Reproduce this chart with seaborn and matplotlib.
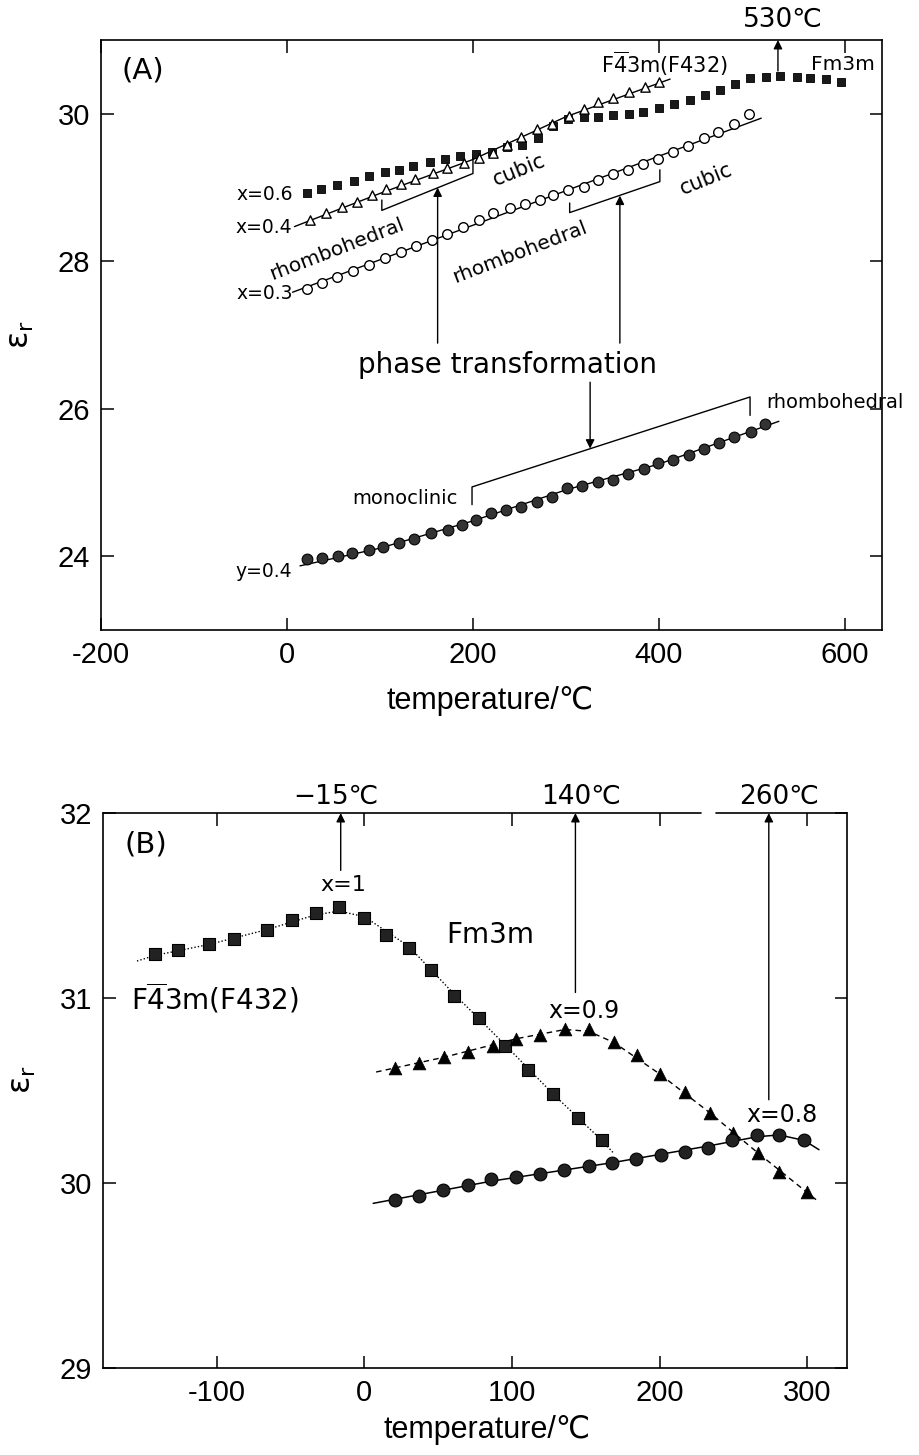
import matplotlib
matplotlib.use("Agg")
import matplotlib.pyplot as plt
from matplotlib import font_manager
import seaborn as sns

# ---- panel A data (temperature in C, relative permittivity) ----
a06_t = [22, 37, 54, 72, 88, 105, 120, 136, 154, 170, 186, 203, 220, 237, 253, 270, 286, 302,
         319, 335, 351, 368, 383, 400, 416, 433, 450, 466, 482, 498, 515, 530, 548, 563, 580, 596]
a06_e = [28.93, 28.98, 29.04, 29.09, 29.15, 29.21, 29.24, 29.29, 29.35, 29.38, 29.43, 29.46, 29.48,
         29.55, 29.58, 29.67, 29.83, 29.93, 29.95, 29.96, 29.98, 30.00, 30.03, 30.08, 30.13, 30.19,
         30.25, 30.32, 30.41, 30.48, 30.50, 30.51, 30.50, 30.49, 30.47, 30.43]

a04_t = [25, 42, 59, 75, 91, 107, 123, 138, 157, 172, 190, 206, 222, 237, 252, 269, 285, 303,
         319, 335, 351, 368, 385, 400]
a04_e = [28.56, 28.65, 28.73, 28.81, 28.90, 28.98, 29.05, 29.12, 29.20, 29.26, 29.33, 29.40, 29.47,
         29.57, 29.68, 29.80, 29.86, 29.97, 30.07, 30.16, 30.22, 30.30, 30.36, 30.43]
a04_fit_t = [8, 100, 200, 300, 412]
a04_fit_e = [28.47, 28.92, 29.38, 29.96, 30.47]

a03_t = [22, 38, 54, 71, 88, 105, 123, 139, 156, 172, 189, 206, 222, 240, 256, 272, 286, 302,
         319, 335, 351, 367, 383, 399, 415, 431, 448, 464, 481, 497]
a03_e = [27.62, 27.70, 27.78, 27.87, 27.95, 28.04, 28.13, 28.21, 28.29, 28.37, 28.46, 28.56, 28.65,
         28.72, 28.78, 28.83, 28.90, 28.96, 29.01, 29.10, 29.18, 29.24, 29.32, 29.38, 29.48, 29.56,
         29.67, 29.75, 29.86, 30.00]
a03_fit_t = [6, 510]
a03_fit_e = [27.58, 29.94]

y04_t = [22, 38, 55, 70, 88, 103, 120, 137, 155, 173, 188, 203, 219, 236, 252, 269, 285, 301,
         317, 334, 351, 367, 384, 399, 415, 432, 449, 465, 481, 499, 514]
y04_e = [23.96, 23.98, 24.01, 24.04, 24.08, 24.13, 24.18, 24.23, 24.31, 24.36, 24.42, 24.49, 24.58,
         24.63, 24.67, 24.74, 24.81, 24.92, 24.95, 25.01, 25.03, 25.12, 25.18, 25.26, 25.31, 25.37,
         25.46, 25.54, 25.62, 25.69, 25.80]
y04_fit_t = [14, 100, 200, 300, 400, 529]
y04_fit_e = [23.87, 24.11, 24.48, 24.90, 25.25, 25.83]

# phase brackets in panel A
br04_t, br04_e = [102, 102, 200, 200], [28.83, 28.69, 29.19, 29.42]
br03_t, br03_e = [304, 304, 401, 401], [28.79, 28.66, 29.08, 29.24]
brmono_t, brmono_e = [199, 199, 498, 498], [24.70, 24.94, 26.16, 25.91]

# ---- panel B data ----
b1_t = [-142, -126, -105, -88, -66, -49, -33, -17, 0, 15, 30, 45, 61, 78, 95, 111, 128, 145, 161]
b1_e = [31.24, 31.26, 31.29, 31.32, 31.37, 31.42, 31.46, 31.49, 31.43, 31.34, 31.27, 31.15, 31.01,
        30.89, 30.74, 30.61, 30.48, 30.35, 30.23]
b1_fit_t = [-154, -142, -105, -66, -33, -17, 0, 30, 61, 95, 128, 161, 169]
b1_fit_e = [31.20, 31.23, 31.29, 31.37, 31.45, 31.47, 31.44, 31.28, 31.02, 30.75, 30.48, 30.23, 30.16]

b09_t = [21, 37, 54, 70, 87, 103, 119, 136, 152, 169, 185, 200, 217, 234, 250, 267, 281, 300]
b09_e = [30.62, 30.65, 30.68, 30.71, 30.74, 30.78, 30.80, 30.83, 30.83, 30.76, 30.69, 30.59, 30.49,
         30.38, 30.27, 30.16, 30.06, 29.95]
b09_fit_t = [8, 54, 103, 136, 152, 169, 200, 234, 267, 306]
b09_fit_e = [30.60, 30.68, 30.78, 30.83, 30.82, 30.76, 30.59, 30.38, 30.16, 29.91]

b08_t = [21, 37, 53, 70, 86, 103, 119, 135, 152, 168, 184, 201, 217, 233, 249, 266, 281, 298]
b08_e = [29.91, 29.93, 29.96, 29.99, 30.02, 30.03, 30.05, 30.07, 30.09, 30.11, 30.13, 30.15, 30.17,
         30.19, 30.23, 30.26, 30.26, 30.23]
b08_fit_t = [6, 86, 168, 233, 266, 281, 298, 308]
b08_fit_e = [29.89, 30.01, 30.11, 30.20, 30.25, 30.26, 30.23, 30.18]

xticks_a = [-200, 0, 200, 400, 600]
yticks_a = [24, 26, 28, 30]
xticks_b = [-100, 0, 100, 200, 300]
yticks_b = [29, 30, 31, 32]

K = "black"
sns.set_theme(style="ticks")
plt.rcParams["font.family"] = ["DejaVu Sans"]
plt.rcParams["axes.unicode_minus"] = False
plt.rcParams["mathtext.fontset"] = "dejavusans"
for key in ["text.color", "axes.labelcolor", "xtick.color", "ytick.color", "axes.edgecolor"]:
    plt.rcParams[key] = K

# condensed face for the tick numbers, if one is installed
installed = {f.name for f in font_manager.fontManager.ttflist}
narrow = "Liberation Sans Narrow" if "Liberation Sans Narrow" in installed else "Liberation Sans"
tick_font = [narrow, "DejaVu Sans"]

fig = plt.figure(figsize=(9.2, 14.55), dpi=100)
axA = fig.add_axes([0.1098, 0.567, 0.849, 0.4055])
axB = fig.add_axes([0.112, 0.0598, 0.8087, 0.3814])


def style_axes(ax, xt, yt, xl, yl):
    ax.set_xlim(*xl)
    ax.set_ylim(*yl)
    ax.set_xticks(xt)
    ax.set_yticks(yt)
    ax.set_xticklabels([str(v) for v in xt])
    ax.set_yticklabels([str(v) for v in yt])
    ax.tick_params(direction="in", length=9, width=1.1, top=True, right=True,
                   labelsize=21, pad=8, labelfontfamily=narrow)
    for s in ax.spines.values():
        s.set_linewidth(1.2)
    ax.set_xlabel("temperature/℃", fontsize=22, family=tick_font)
    ax.set_ylabel("ε$_\\mathregular{r}$", fontsize=23, rotation=90)
    ax.grid(False)


def arrow(ax, t, e0, e1):
    ax.annotate("", xy=(t, e1), xytext=(t, e0), annotation_clip=False,
                arrowprops=dict(arrowstyle="-|>", color=K, lw=1.0, mutation_scale=13,
                                shrinkA=0, shrinkB=0))


# ================= panel A =================
ax = axA
sns.lineplot(x=a04_fit_t, y=a04_fit_e, ax=ax, color=K, lw=1.0, estimator=None)
sns.lineplot(x=a03_fit_t, y=a03_fit_e, ax=ax, color=K, lw=1.0, estimator=None)
sns.lineplot(x=y04_fit_t, y=y04_fit_e, ax=ax, color=K, lw=1.0, estimator=None)
sns.scatterplot(x=a06_t, y=a06_e, ax=ax, marker="s", s=36, color="#1a1a1a", edgecolor=K,
                linewidth=0.6, zorder=3)
sns.scatterplot(x=a04_t, y=a04_e, ax=ax, marker="^", s=45, color="white", edgecolor=K,
                linewidth=1.0, zorder=3)
sns.scatterplot(x=a03_t, y=a03_e, ax=ax, marker="o", s=48, color="white", edgecolor=K,
                linewidth=1.0, zorder=3)
sns.scatterplot(x=y04_t, y=y04_e, ax=ax, marker="o", s=60, color="#333333", edgecolor=K,
                linewidth=0.8, zorder=3)
for bt, be in [(br04_t, br04_e), (br03_t, br03_e), (brmono_t, brmono_e)]:
    ax.plot(bt, be, color=K, lw=1.0)

style_axes(ax, xticks_a, yticks_a, (-200, 640), (23, 31))
ax.xaxis.set_label_coords(0.498, -0.095)
ax.yaxis.set_label_coords(-0.083, 0.5)

ax.text(-155, 30.58, "(A)", fontsize=21, ha="center", va="center")
ax.text(6, 28.9, "x=0.6", fontsize=13.5, ha="right", va="center")
ax.text(6, 28.46, "x=0.4", fontsize=13.5, ha="right", va="center")
ax.text(6, 27.56, "x=0.3", fontsize=13.5, ha="right", va="center")
ax.text(5, 23.8, "y=0.4", fontsize=13.5, ha="right", va="center")
ax.text(54, 28.16, "rhombohedral", fontsize=14.5, rotation=21, ha="center", va="center",
        rotation_mode="anchor")
ax.text(250, 28.12, "rhombohedral", fontsize=14.5, rotation=21, ha="center", va="center",
        rotation_mode="anchor")
ax.text(250, 29.23, "cubic", fontsize=15, rotation=22, ha="center", va="center",
        rotation_mode="anchor")
ax.text(451, 29.12, "cubic", fontsize=15, rotation=22, ha="center", va="center",
        rotation_mode="anchor")
ax.text(406, 30.67, r"F$\overline{4}$3m(F432)", fontsize=15, ha="center", va="center")
ax.text(598, 30.67, "Fm3m", fontsize=14.5, ha="center", va="center")
ax.text(533, 31.27, "530℃", fontsize=19, ha="center", va="center", clip_on=False)
ax.text(237, 26.59, "phase transformation", fontsize=20, ha="center", va="center")
ax.text(184, 24.79, "monoclinic", fontsize=14, ha="right", va="center")
ax.text(515, 26.08, "rhombohedral", fontsize=14, ha="left", va="center", clip_on=False)
arrow(ax, 162, 26.89, 29.0)
arrow(ax, 358, 26.89, 28.89)
arrow(ax, 326, 26.36, 25.46)
arrow(ax, 528, 30.58, 31.0)

# ================= panel B =================
ax = axB
sns.lineplot(x=b1_fit_t, y=b1_fit_e, ax=ax, color=K, lw=1.0, estimator=None, linestyle=(0, (1, 1.5)))
sns.lineplot(x=b09_fit_t, y=b09_fit_e, ax=ax, color=K, lw=1.0, estimator=None, linestyle=(0, (4, 3)))
sns.lineplot(x=b08_fit_t, y=b08_fit_e, ax=ax, color=K, lw=1.1, estimator=None)
sns.scatterplot(x=b1_t, y=b1_e, ax=ax, marker="s", s=85, color="#222222", edgecolor=K,
                linewidth=0.8, zorder=3)
sns.scatterplot(x=b09_t, y=b09_e, ax=ax, marker="^", s=85, color=K, edgecolor=K,
                linewidth=0.5, zorder=3)
sns.scatterplot(x=b08_t, y=b08_e, ax=ax, marker="o", s=85, color="#222222", edgecolor=K,
                linewidth=0.8, zorder=3)

style_axes(ax, xticks_b, yticks_b, (-177, 327), (29, 32))
ax.xaxis.set_label_coords(0.516, -0.085)
ax.yaxis.set_label_coords(-0.088, 0.52)
# the top frame line is broken between 228 and 238 C
ax.spines["top"].set_visible(False)
ax.plot([-177, 228], [1, 1], transform=ax.get_xaxis_transform(), color=K, lw=1.2, clip_on=False)
ax.plot([238, 327], [1, 1], transform=ax.get_xaxis_transform(), color=K, lw=1.2, clip_on=False)

ax.text(-148, 31.83, "(B)", fontsize=21, ha="center", va="center")
ax.text(-14, 31.61, "x=1", fontsize=16, ha="center", va="center")
ax.text(85, 31.34, "Fm3m", fontsize=20, ha="center", va="center")
ax.text(-101, 31.0, r"F$\overline{4}$3m(F432)", fontsize=20, ha="center", va="center")
ax.text(149, 30.93, "x=0.9", fontsize=17, ha="center", va="center")
ax.text(283, 30.37, "x=0.8", fontsize=17, ha="center", va="center")
ax.text(-19, 32.09, "−15℃", fontsize=19, ha="center", va="center", clip_on=False)
ax.text(147, 32.09, "140℃", fontsize=19, ha="center", va="center", clip_on=False)
ax.text(281, 32.09, "260℃", fontsize=19, ha="center", va="center", clip_on=False)
arrow(ax, -16, 31.69, 32.0)
arrow(ax, 143, 31.03, 32.0)
arrow(ax, 274, 30.45, 32.0)

fig.savefig("out.png", dpi=100, facecolor="white")
